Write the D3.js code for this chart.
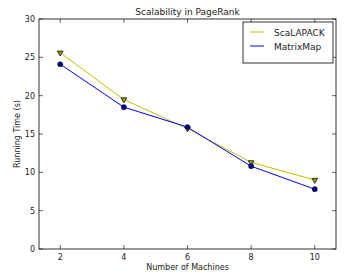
<!DOCTYPE html>
<html><head><meta charset="utf-8">
<script src="https://cdn.jsdelivr.net/npm/d3@7"></script>
<style>body{margin:0;background:#fff}svg{display:block}text{font-family:"DejaVu Sans",sans-serif;fill:#222}</style>
</head><body>
<svg id="c" width="352" height="278"></svg>
<script>
const machines = [2, 4, 6, 8, 10];
const scalapack = [25.6, 19.5, 15.7, 11.3, 9.0];
const matrixmap = [24.1, 18.5, 15.9, 10.8, 7.8];
const xTicks = [2, 4, 6, 8, 10];
const yTicks = [0, 5, 10, 15, 20, 25, 30];

const svg = d3.select("#c");
const L = 39, R = 336, T = 19, B = 249;
const x = d3.scaleLinear().domain([1.333, 10.667]).range([L, R]);
const y = d3.scaleLinear().domain([0, 30]).range([B, T]);
const fs = 8;

const g = svg.append("g");
xTicks.forEach(t => {
  g.append("line").attr("x1", x(t)).attr("x2", x(t)).attr("y1", B).attr("y2", B - 4).attr("stroke", "#000").attr("stroke-width", 0.6);
  g.append("line").attr("x1", x(t)).attr("x2", x(t)).attr("y1", T).attr("y2", T + 4).attr("stroke", "#000").attr("stroke-width", 0.6);
  g.append("text").attr("x", x(t)).attr("y", B + 11).attr("text-anchor", "middle").attr("font-size", fs).text(t);
});
yTicks.forEach(t => {
  g.append("line").attr("x1", L).attr("x2", L + 4).attr("y1", y(t)).attr("y2", y(t)).attr("stroke", "#000").attr("stroke-width", 0.6);
  g.append("line").attr("x1", R).attr("x2", R - 4).attr("y1", y(t)).attr("y2", y(t)).attr("stroke", "#000").attr("stroke-width", 0.6);
  g.append("text").attr("x", L - 4).attr("y", y(t) + 3).attr("text-anchor", "end").attr("font-size", fs).text(t);
});

const line = d3.line().x((d, i) => x(machines[i])).y(d => y(d));
svg.append("path").datum(scalapack).attr("d", line).attr("fill", "none").attr("stroke", "#bfbf00").attr("stroke-width", 1);
svg.append("path").datum(matrixmap).attr("d", line).attr("fill", "none").attr("stroke", "#0000ff").attr("stroke-width", 1);

const tri = d3.symbol().type(d3.symbolTriangle).size(14);
svg.selectAll(".tri").data(scalapack).enter().append("path")
  .attr("d", tri).attr("transform", (d, i) => `translate(${x(machines[i])},${y(d)}) rotate(180)`)
  .attr("fill", "#9a9a00").attr("stroke", "#111").attr("stroke-width", 0.8);
svg.selectAll(".dot").data(matrixmap).enter().append("circle")
  .attr("cx", (d, i) => x(machines[i])).attr("cy", d => y(d)).attr("r", 2.6)
  .attr("fill", "#00008b").attr("stroke", "#000").attr("stroke-width", 0.4);

svg.append("rect").attr("x", L).attr("y", T).attr("width", R - L).attr("height", B - T)
  .attr("fill", "none").attr("stroke", "#000").attr("stroke-width", 0.8);

svg.append("text").attr("x", (L + R) / 2).attr("y", 15).attr("text-anchor", "middle").attr("font-size", 9).text("Scalability in PageRank");
svg.append("text").attr("x", (L + R) / 2).attr("y", 270).attr("text-anchor", "middle").attr("font-size", 8).text("Number of Machines");
svg.append("text").attr("transform", `translate(20,${(T + B) / 2}) rotate(-90)`).attr("text-anchor", "middle").attr("font-size", 8).text("Running Time (s)");

const lg = svg.append("g");
lg.append("rect").attr("x", 243).attr("y", 22).attr("width", 90).attr("height", 41).attr("fill", "#fff").attr("stroke", "#000").attr("stroke-width", 0.8);
const names = ["ScaLAPACK", "MatrixMap"], cols = ["#bfbf00", "#0000ff"];
names.forEach((n, i) => {
  const yy = 32 + i * 14;
  lg.append("line").attr("x1", 250).attr("x2", 264).attr("y1", yy).attr("y2", yy).attr("stroke", cols[i]).attr("stroke-width", 1);
  lg.append("text").attr("x", 274).attr("y", yy + 3.5).attr("font-size", 9).text(n);
});
</script>
</body></html>
